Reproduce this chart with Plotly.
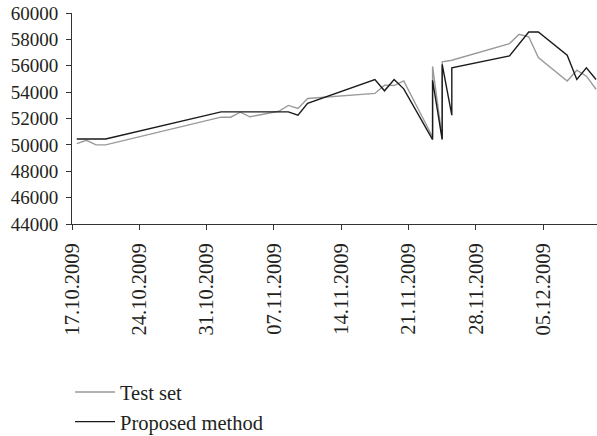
import plotly.graph_objects as go

# Test set series
test_dates = [
    "2009-10-17 12:00", "2009-10-18 12:00", "2009-10-19 12:00", "2009-10-20 12:00",
    "2009-11-01 12:00", "2009-11-02 12:00", "2009-11-03 12:00", "2009-11-04 12:00",
    "2009-11-07 12:00", "2009-11-08 12:00", "2009-11-09 12:00", "2009-11-10 12:00",
    "2009-11-17 12:00", "2009-11-18 12:00", "2009-11-19 12:00", "2009-11-20 12:00",
    "2009-11-23 12:00", "2009-11-23 12:00", "2009-11-24 12:00", "2009-11-24 12:00",
    "2009-11-25 12:00", "2009-12-01 12:00", "2009-12-02 12:00", "2009-12-03 12:00",
    "2009-12-04 12:00", "2009-12-07 12:00", "2009-12-08 12:00", "2009-12-09 12:00",
    "2009-12-10 12:00",
]
test_values = [
    50100, 50350, 50000, 50000,
    52100, 52100, 52480, 52130,
    52550, 52990, 52760, 53520,
    53900, 54530, 54500, 54850,
    50600, 55950, 50500, 56300,
    56420, 57680, 58390, 58200,
    56620, 54850, 55660, 55210,
    54220,
]

# Proposed method series
method_dates = [
    "2009-10-17 12:00", "2009-10-20 12:00", "2009-11-01 12:00", "2009-11-08 12:00",
    "2009-11-09 12:00", "2009-11-10 12:00", "2009-11-17 12:00", "2009-11-18 12:00",
    "2009-11-19 12:00", "2009-11-20 12:00", "2009-11-23 12:00", "2009-11-23 12:00",
    "2009-11-24 12:00", "2009-11-24 12:00", "2009-11-25 12:00", "2009-11-25 12:00",
    "2009-12-01 12:00", "2009-12-03 12:00", "2009-12-04 12:00", "2009-12-07 12:00",
    "2009-12-08 12:00", "2009-12-09 12:00", "2009-12-10 12:00",
]
method_values = [
    50450, 50450, 52500, 52500,
    52250, 53150, 54950, 54100,
    54950, 54250, 50400, 54900,
    50400, 56100, 52250, 55850,
    56750, 58560, 58560, 56800,
    54960, 55840, 54960,
]

tick_dates = ["2009-10-17", "2009-10-24", "2009-10-31", "2009-11-07",
              "2009-11-14", "2009-11-21", "2009-11-28", "2009-12-05"]
tick_labels = ["17.10.2009", "24.10.2009", "31.10.2009", "07.11.2009",
               "14.11.2009", "21.11.2009", "28.11.2009", "05.12.2009"]
y_ticks = [44000, 46000, 48000, 50000, 52000, 54000, 56000, 58000, 60000]

FONT = "Liberation Serif"
TEXT = "#231f20"

fig = go.Figure()
fig.add_trace(go.Scatter(x=test_dates, y=test_values, mode="lines", name="Test set",
                         legendgroup="a",
                         line=dict(color="#9a9a9a", width=1.4)))
fig.add_trace(go.Scatter(x=method_dates, y=method_values, mode="lines", name="Proposed method",
                         legendgroup="b",
                         line=dict(color="#1a1a1a", width=1.4)))

fig.update_layout(
    width=597, height=436,
    margin=dict(l=72, r=0, t=13, b=212, pad=0, autoexpand=False),
    paper_bgcolor="white", plot_bgcolor="white",
    font=dict(family=FONT, size=19, color=TEXT),
    showlegend=True,
    legend=dict(x=-0.0038, y=-0.702, xanchor="left", yanchor="top",
                bgcolor="rgba(0,0,0,0)", font=dict(family=FONT, size=20.5, color=TEXT),
                tracegroupgap=0, itemwidth=40),
)
fig.update_xaxes(
    type="date", automargin=False,
    range=["2009-10-17 00:00", "2009-12-10 14:24"],
    tickvals=tick_dates, ticktext=tick_labels, tickangle=-90,
    ticks="outside", ticklen=5, tickcolor="#333", tickwidth=1,
    showline=True, linecolor="#333", linewidth=1,
    showgrid=False, zeroline=False, ticklabelstandoff=5,
    ticklabeloverflow="allow",
    tickfont=dict(family=FONT, size=20.5, color=TEXT),
)
fig.update_yaxes(
    range=[44000, 60000], automargin=False,
    tickvals=y_ticks, ticktext=[str(v) for v in y_ticks],
    ticks="outside", ticklen=5, tickcolor="#333", tickwidth=1,
    showline=True, linecolor="#333", linewidth=1,
    showgrid=False, zeroline=False, ticklabelstandoff=4,
    ticklabeloverflow="allow",
    tickfont=dict(family=FONT, size=19, color=TEXT),
)

# remove the browser's default 8px body margin so the figure fills the window
fig.write_html(
    "out.html",
    config={"displayModeBar": False},
    post_script="document.body.style.margin='0';document.body.style.overflow='hidden';",
)
